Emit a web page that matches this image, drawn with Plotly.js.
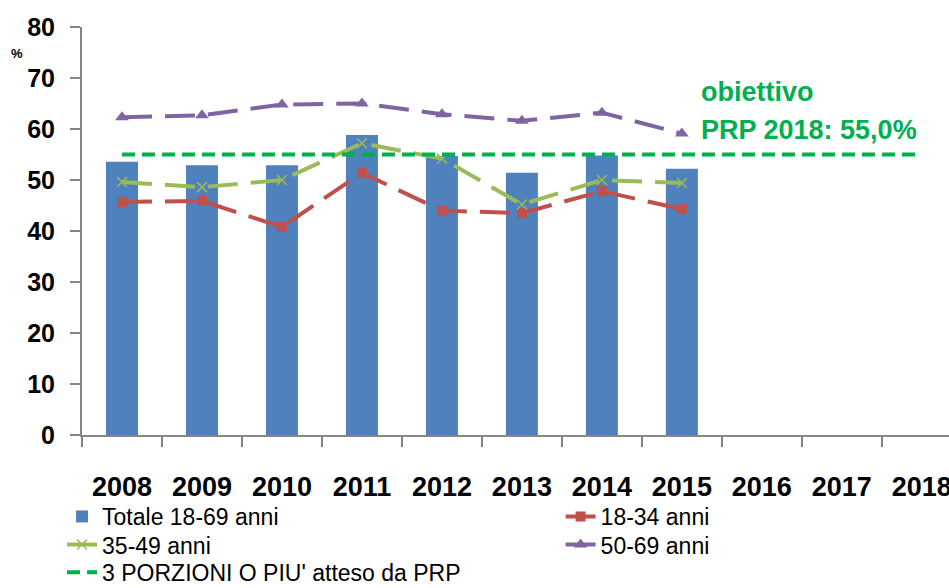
<!DOCTYPE html>
<html>
<head>
<meta charset="utf-8">
<script src="https://cdn.plot.ly/plotly-3.0.1.min.js"></script>
<style>html,body{margin:0;padding:0;background:#fff;}#chart{width:949px;height:588px;}</style>
</head>
<body>
<div id="chart"></div>
<script>
const years = ["2008","2009","2010","2011","2012","2013","2014","2015","2016","2017","2018"];
const yearsData = ["2008","2009","2010","2011","2012","2013","2014","2015"];
const totale = [53.6, 52.9, 52.9, 58.8, 54.7, 51.4, 54.8, 52.2];
const anni1834 = [45.7, 45.9, 40.8, 51.4, 44.0, 43.5, 47.8, 44.3];
const anni3549 = [49.6, 48.6, 50.0, 57.2, 54.2, 45.2, 50.0, 49.4];
const anni5069 = [62.3, 62.7, 64.8, 65.0, 62.9, 61.6, 63.2, 59.1];
const target = [55, 55, 55, 55, 55, 55, 55, 55, 55, 55, 55];
const yTicks = [0, 10, 20, 30, 40, 50, 60, 70, 80];

const F = "Liberation Sans, Arial, sans-serif";

const traces = [
  {type:"bar", name:"Totale 18-69 anni", x:yearsData, y:totale, width:0.4,
   marker:{color:"#4F81BD"}, legend:"legend"},
  {type:"scatter", mode:"lines+markers", name:"18-34 anni", x:yearsData, y:anni1834,
   line:{color:"#C0504D", width:4, dash:"30px,13px"},
   marker:{symbol:"square", size:10, color:"#C0504D"}, legend:"legend2"},
  {type:"scatter", mode:"lines+markers", name:"35-49 anni", x:yearsData, y:anni3549,
   line:{color:"#9BBB59", width:4, dash:"30px,13px"},
   marker:{symbol:"x-thin-open", size:10, color:"#9BBB59", line:{width:1.5, color:"#9BBB59"}}, legend:"legend3"},
  {type:"scatter", mode:"lines+markers", name:"50-69 anni", x:yearsData, y:anni5069,
   line:{color:"#8064A2", width:4, dash:"30px,13px"},
   marker:{symbol:"triangle-up", size:12, color:"#8064A2"}, legend:"legend4"},
  {type:"scatter", mode:"lines", name:"3 PORZIONI O PIU' atteso da PRP", x:years, y:target,
   line:{color:"#00B050", width:4, dash:"13px,7px"}, legend:"legend5"}
];

function leg(x, y) {
  return {x:x, xanchor:"left", y:y, yanchor:"top", orientation:"v",
    font:{family:F, size:23, color:"#000"}, bgcolor:"rgba(0,0,0,0)"};
}

const layout = {
  width:949, height:588,
  margin:{l:82, r:0, t:27, b:153, autoexpand:false},
  paper_bgcolor:"#fff", plot_bgcolor:"#fff",
  font:{family:F, color:"#000"},
  showlegend:true,
  xaxis:{type:"category", categoryorder:"array", categoryarray:years,
    range:[-0.5, 10.34], showgrid:false, zeroline:false, automargin:false,
    showline:true, linecolor:"#868686", linewidth:2,
    ticks:"outside", tickson:"boundaries", ticklen:10, tickcolor:"#868686", tickwidth:2,
    tickfont:{family:F, size:27, weight:"bold", color:"#000"}, ticklabelstandoff:27},
  yaxis:{range:[0,80], tickvals:yTicks, showgrid:false, zeroline:false, automargin:false,
    showline:true, linecolor:"#868686", linewidth:2,
    ticks:"outside", ticklen:10, tickcolor:"#868686", tickwidth:2,
    tickfont:{family:F, size:25, weight:"bold", color:"#000"}, ticklabelstandoff:10},
  legend:leg(-0.023, -0.147),
  legend2:leg(0.552, -0.147),
  legend3:leg(-0.023, -0.216),
  legend4:leg(0.552, -0.216),
  legend5:leg(-0.023, -0.284),
  annotations:[
    {xref:"paper", yref:"paper", x:0.712, y:0.841, xanchor:"left", yanchor:"middle",
     text:"obiettivo", showarrow:false, font:{family:F, size:27, weight:"bold", color:"#00B050"}},
    {xref:"paper", yref:"paper", x:0.712, y:0.748, xanchor:"left", yanchor:"middle",
     text:"PRP 2018: 55,0%", showarrow:false, font:{family:F, size:27, weight:"bold", color:"#00B050"}},
    {xref:"paper", yref:"paper", x:-0.075, y:0.935, xanchor:"center", yanchor:"middle",
     text:"%", showarrow:false, font:{family:F, size:13, weight:"bold", color:"#000"}}
  ]
};

Plotly.newPlot("chart", traces, layout, {displayModeBar:false, staticPlot:true});
</script>
</body>
</html>
